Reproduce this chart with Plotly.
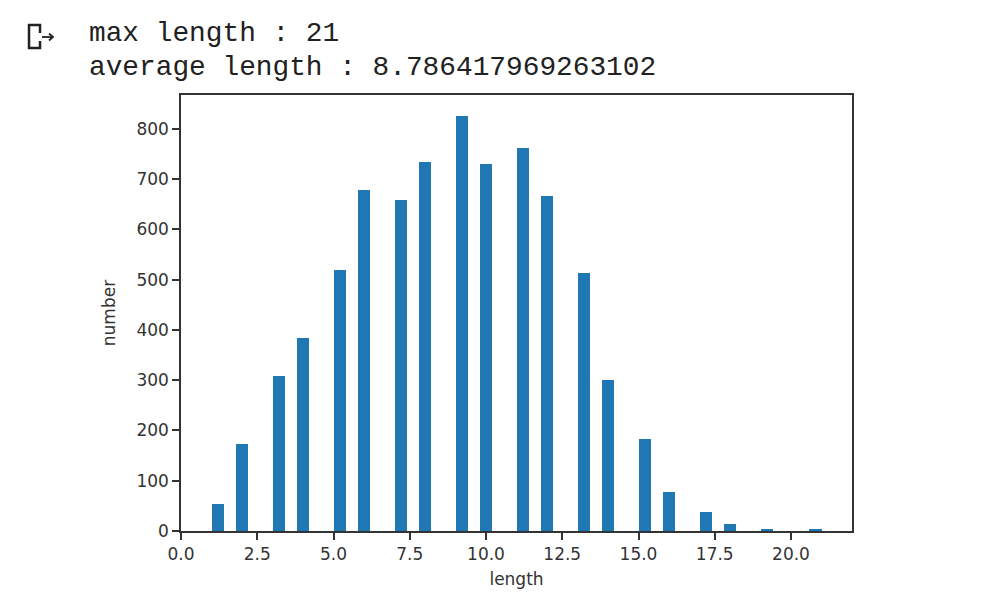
import numpy as np
import plotly.graph_objects as go

# sentence length -> how many sentences have that length
lengths = [1, 2, 3, 4, 5, 6, 7, 8, 9, 10, 11, 12, 13, 14, 15, 16, 17, 18, 19, 20, 21]
counts = [53, 174, 309, 384, 519, 679, 659, 734, 826, 730, 762, 667, 513, 300, 184, 77, 37, 13, 4, 0, 4]

out_lines = ['max length : 21', 'average length : 8.786417969263102']

# same binning as plt.hist(..., bins=50)
hist, edges = np.histogram(lengths, bins=50, weights=counts)

fig = go.Figure()
fig.add_trace(go.Bar(
    x=edges[:-1],
    y=hist,
    width=np.diff(edges),
    offset=0,
    marker=dict(color='#1f77b4', line=dict(width=0)),
))

axis_font = dict(family='DejaVu Sans', size=17, color='#333333')

fig.update_xaxes(
    range=[0, 22], tick0=0, dtick=2.5, tickformat='.1f',
    ticks='outside', ticklen=7, tickwidth=1.5, tickcolor='#333333',
    showline=True, mirror=True, linecolor='#333333', linewidth=1.5,
    showgrid=False, zeroline=False, tickfont=axis_font,
    title=dict(text='length', font=axis_font, standoff=10),
)
fig.update_yaxes(
    range=[0, max(counts) * 1.05], tick0=0, dtick=100,
    ticks='outside', ticklen=7, tickwidth=1.5, tickcolor='#333333',
    showline=True, mirror=True, linecolor='#333333', linewidth=1.5,
    showgrid=False, zeroline=False, tickfont=axis_font,
    title=dict(text='number', font=axis_font, standoff=16),
)

# printed output above the plot (colab cell output)
line_y = [1.1422, 1.0642]
for line, y in zip(out_lines, line_y):
    fig.add_annotation(
        text=line, xref='paper', yref='paper', x=-0.1401, y=y,
        xanchor='left', yanchor='middle', showarrow=False,
        font=dict(family='Liberation Mono', size=27.8, color='#212121'),
    )

# output icon: bracket + arrow
icon = dict(color='#212121', width=2.5)
fig.add_shape(type='path', xref='paper', yref='paper',
              path='M -0.2101,1.1422 L -0.2101,1.1606 L -0.2265,1.1606 '
                   'L -0.2265,1.1078 L -0.2101,1.1078 L -0.2101,1.1239',
              line=icon)
fig.add_shape(type='line', xref='paper', yref='paper',
              x0=-0.2072, y0=1.1330, x1=-0.1908, y1=1.1330,
              line=dict(color='#212121', width=1.8))
fig.add_shape(type='path', xref='paper', yref='paper',
              path='M -0.1967,1.1411 L -0.1908,1.1330 L -0.1967,1.1250',
              line=dict(color='#212121', width=1.8))

# page body adds an 8px offset, so figure is 8px smaller
fig.update_layout(
    width=998, height=608,
    margin=dict(l=173, r=154, t=87, b=85),
    paper_bgcolor='white', plot_bgcolor='white',
    showlegend=False, bargap=0,
)

fig.write_html('out.html')
